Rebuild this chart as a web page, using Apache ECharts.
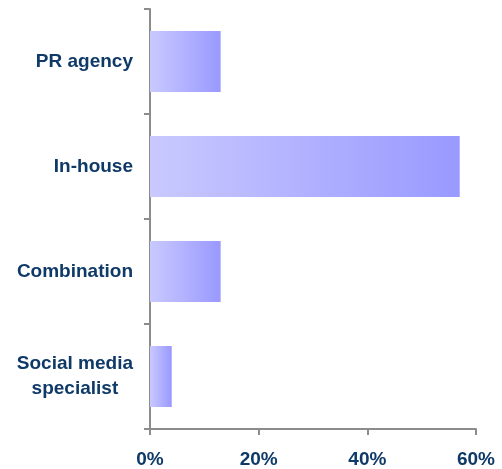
<!DOCTYPE html>
<html>
<head>
<meta charset="utf-8">
<script src="https://cdn.jsdelivr.net/npm/echarts@6/dist/echarts.min.js"></script>
<style>
  html, body { margin: 0; padding: 0; background: #fff; }
  #chart { width: 502px; height: 469px; }
</style>
</head>
<body>
<div id="chart"></div>
<script>
// Who handles social media work (share of respondents, %)
const categories = ['PR agency', 'In-house', 'Combination', 'Social media\nspecialist'];
const shares = [13, 57, 13, 4];
const xTicks = [0, 20, 40, 60];

const labelColor = '#0f3a68';
const axisColor = '#8c8c8c';
const labelFont = 'Liberation Sans, Arial, sans-serif';

const chart = echarts.init(document.getElementById('chart'), null, { renderer: 'canvas' });

chart.setOption({
  animation: false,
  grid: { left: 150, right: 26, top: 9, bottom: 40, containLabel: false },
  xAxis: {
    type: 'value',
    min: xTicks[0],
    max: xTicks[xTicks.length - 1],
    interval: xTicks[1] - xTicks[0],
    splitLine: { show: false },
    axisLine: { show: true, lineStyle: { color: axisColor, width: 2 } },
    axisTick: { show: true, length: 6, lineStyle: { color: axisColor, width: 2 } },
    axisLabel: {
      formatter: v => v + '%',
      color: labelColor,
      fontFamily: labelFont,
      fontWeight: 'bold',
      fontSize: 19,
      margin: 21
    }
  },
  yAxis: {
    type: 'category',
    data: categories,
    inverse: true,
    axisLine: { show: true, lineStyle: { color: axisColor, width: 2 } },
    axisTick: { show: true, length: 6, lineStyle: { color: axisColor, width: 2 } },
    axisLabel: {
      // multi-line names are centred line by line inside a right-aligned block
      formatter: v => v.split('\n').map(line => '{c|' + line + '}').join('\n'),
      color: labelColor,
      fontFamily: labelFont,
      fontWeight: 'bold',
      fontSize: 19,
      lineHeight: 25,
      margin: 17,
      align: 'right',
      rich: {
        c: {
          align: 'center',
          color: labelColor,
          fontFamily: labelFont,
          fontWeight: 'bold',
          fontSize: 19,
          lineHeight: 25
        }
      }
    }
  },
  series: [{
    type: 'bar',
    data: shares,
    barCategoryGap: '42%',
    itemStyle: {
      color: new echarts.graphic.LinearGradient(0, 0, 1, 0, [
        { offset: 0, color: '#c9c9ff' },
        { offset: 1, color: '#9999ff' }
      ])
    }
  }]
});
</script>
</body>
</html>
